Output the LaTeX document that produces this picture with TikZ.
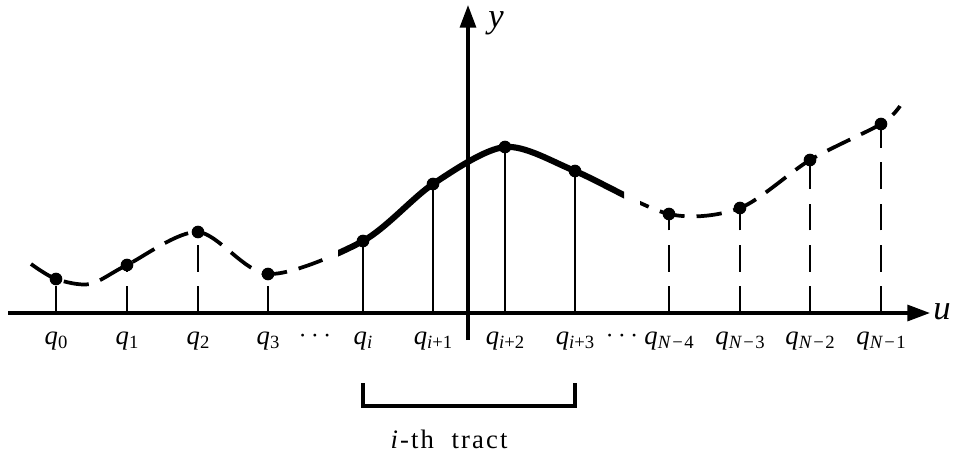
\documentclass[tikz,border=0pt]{standalone}
\usepackage{fontspec}
\setmainfont{Liberation Serif}
\newfontfamily\tractfont{Liberation Serif}[LetterSpace=8]
\usetikzlibrary{arrows.meta,calc}
\tikzset{
  axis/.style={line width=2.4pt,-{Triangle[length=17pt,width=12pt]}},
  curvedash/.style={line width=2.8pt,dash pattern=on 19pt off 9pt},
  curvesolid/.style={line width=4.6pt},
  stemsolid/.style={line width=2pt},
  stemdash/.style={line width=2pt,dash pattern=on 20pt off 11pt},
  knot/.style={circle,fill=black,inner sep=0pt,minimum size=9.5pt},
  qlabel/.style={anchor=base,inner sep=0pt,font=\fontsize{20}{22}\selectfont},
  axlabel/.style={inner sep=0pt,font=\fontsize{26}{28}\selectfont\itshape},
  bracket/.style={line width=2.4pt}
}
\newcommand{\qq}[1]{\textit{q}\raisebox{-0.4ex}{\fontsize{14}{15}\selectfont #1}}

\begin{document}
\begin{tikzpicture}[x=0.75pt,y=-0.75pt]
  \useasboundingbox (0,0) rectangle (957,455);

  % axes
  \coordinate (o) at (468,313);
  \draw[axis] (8,313) -- (930,313) coordinate (uend);
  \draw[axis] (468,340) -- (468,5) coordinate (yend);
  \node[axlabel] (u) at (942,312) {u};
  \node[axlabel,anchor=base] (y) at (496,27) {y};

  % knots on the curve
  \foreach \n/\x/\y/\t in {0/56/279/{0},1/127/265/{1},2/198/232/{2},3/268/274/{3},
      4/363/241/{\textit{i}},5/433/184/{\textit{i}+1},6/505/147/{\textit{i}+2},7/575/171/{\textit{i}+3},
      8/669/214/{\textit{N}\kern1pt−\kern1pt4},9/740/208/{\textit{N}\kern1pt−\kern1pt3},
      10/810/160/{\textit{N}\kern1pt−\kern1pt2},11/881/124/{\textit{N}\kern1pt−\kern1pt1}} {
    \coordinate (p\n) at (\x,\y);
    \node[qlabel] (l\n) at (\x,344) {\qq{\t}};
  }
  \coordinate (s) at (31,264);
  \coordinate (h) at (90,284);
  \coordinate (e) at (900,106);

  % stems
  \foreach \n in {0,1,2,3,8,9,10,11}
    \draw[stemdash] (p\n |- o) -- (p\n);
  \foreach \n in {4,...,7}
    \draw[stemsolid] (p\n |- o) -- (p\n);

  % the curve, dashed outside the tract
  \begin{scope}
    \clip (0,0) rectangle (326,455) (640,0) rectangle (957,455);
    \draw[curvedash] plot[smooth] coordinates {(s) (p0) (h) (p1) (p2) (p3) (p4) (p5) (p6) (p7) (p8) (p9) (p10) (p11) (e)};
  \end{scope}
  \begin{scope}
    \clip (338,0) rectangle (624,455);
    \draw[curvesolid] plot[smooth] coordinates {(s) (p0) (h) (p1) (p2) (p3) (p4) (p5) (p6) (p7) (p8) (p9) (p10) (p11) (e)};
  \end{scope}

  \foreach \n in {0,...,11}
    \node[knot] (k\n) at (p\n) {};

  \node[font=\fontsize{21}{22}\selectfont] (dl) at (315,336) {$\cdots$};
  \node[font=\fontsize{21}{22}\selectfont] (dr) at (622,336) {$\cdots$};

  % the i-th tract
  \coordinate (bt) at (0,383);
  \coordinate (bb) at (0,406);
  \draw[bracket] (p4 |- bt) -- (p4 |- bb) -- (p7 |- bb) -- (p7 |- bt);
  \node[font=\fontsize{20}{22}\tractfont] (tract) at (449,439) {\textit{i}-th\ \ tract};
\end{tikzpicture}
\end{document}
